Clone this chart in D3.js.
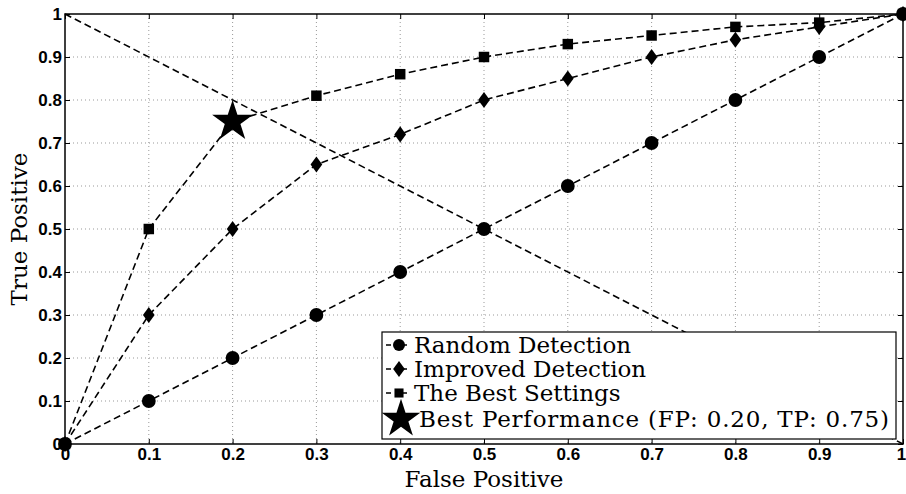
<!DOCTYPE html>
<html>
<head>
<meta charset="utf-8">
<script src="https://cdn.jsdelivr.net/npm/d3@7"></script>
<style>
  body { margin: 0; background: #fff; }
  .tick text { font-family: "Liberation Sans", Arial, sans-serif; font-weight: bold; font-size: 17px; fill: #000; }
  .lbl { font-family: "DejaVu Serif", serif; font-size: 23px; fill: #000; }
</style>
</head>
<body>
<div id="canvas"></div>
<script>
// data
var fpValues = [0, 0.1, 0.2, 0.3, 0.4, 0.5, 0.6, 0.7, 0.8, 0.9, 1];
var randomTP = [0, 0.1, 0.2, 0.3, 0.4, 0.5, 0.6, 0.7, 0.8, 0.9, 1];
var improvedTP = [0, 0.3, 0.5, 0.65, 0.72, 0.8, 0.85, 0.9, 0.94, 0.97, 1];
var bestTP = [0, 0.5, 0.75, 0.81, 0.86, 0.9, 0.93, 0.95, 0.97, 0.98, 1];
var diagonal = [[0, 1], [1, 0]];
var bestPoint = [0.2, 0.75];
var ticks = [0, 0.1, 0.2, 0.3, 0.4, 0.5, 0.6, 0.7, 0.8, 0.9, 1];
var legendLabels = ['Random Detection', 'Improved Detection', 'The Best Settings',
  'Best Performance (FP: 0.20, TP: 0.75)'];

var W = 906, H = 494;
var m = {t: 14, r: 3, b: 50, l: 65},
    w = W - m.l - m.r,
    h = H - m.t - m.b;

var svg = d3.select('#canvas').append('svg')
  .attr('width', W).attr('height', H);
var plot = svg.append('g')
  .attr('transform', 'translate(' + m.l + ',' + m.t + ')');

var x = d3.scaleLinear().domain([0, 1]).range([0, w]);
var y = d3.scaleLinear().domain([0, 1]).range([h, 0]);
var fmt = function(d){ return d === 0 ? '0' : d === 1 ? '1' : d3.format('.1f')(d); };

// grid
plot.append('g').selectAll('line').data(ticks.slice(1, -1)).enter().append('line')
  .attr('x1', function(d){ return x(d); }).attr('x2', function(d){ return x(d); })
  .attr('y1', 0).attr('y2', h)
  .attr('stroke', '#999').attr('stroke-dasharray', '1,3');
plot.append('g').selectAll('line').data(ticks.slice(1, -1)).enter().append('line')
  .attr('y1', function(d){ return y(d); }).attr('y2', function(d){ return y(d); })
  .attr('x1', 0).attr('x2', w)
  .attr('stroke', '#999').attr('stroke-dasharray', '1,3');

// axes
plot.append('g').attr('transform', 'translate(0,' + h + ')')
  .call(d3.axisBottom(x).tickValues(ticks).tickFormat(fmt).tickSizeInner(-5).tickSizeOuter(0).tickPadding(2))
  .call(function(g){
    g.select('.domain').remove();
    g.selectAll('.tick text').attr('dy', '0.8em');
    g.selectAll('.tick text').filter(function(d){ return d === 1; }).attr('dx', '-2');
  });
plot.append('g')
  .call(d3.axisLeft(y).tickValues(ticks).tickFormat(fmt).tickSizeInner(-5).tickSizeOuter(0).tickPadding(3))
  .call(function(g){ g.select('.domain').remove(); });
plot.append('g')
  .call(d3.axisTop(x).tickValues(ticks).tickFormat('').tickSizeInner(-5).tickSizeOuter(0))
  .call(function(g){ g.select('.domain').remove(); });
plot.append('g').attr('transform', 'translate(' + w + ',0)')
  .call(d3.axisRight(y).tickValues(ticks).tickFormat('').tickSizeInner(-5).tickSizeOuter(0))
  .call(function(g){ g.select('.domain').remove(); });

var line = d3.line()
  .x(function(d){ return x(d[0]); })
  .y(function(d){ return y(d[1]); });

function pts(vals){ return fpValues.map(function(f, i){ return [f, vals[i]]; }); }

var series = [
  {data: pts(randomTP), sym: d3.symbolCircle, size: 150},
  {data: pts(improvedTP), sym: 'diamond', size: 0},
  {data: pts(bestTP), sym: d3.symbolSquare, size: 110}
];

function diamondPath(s){
  var a = s * 0.45, b = s * 0.62;
  return 'M0,' + (-b) + 'L' + a + ',0L0,' + b + 'L' + (-a) + ',0Z';
}
function marker(sel, s){
  if (s.sym === 'diamond') sel.attr('d', diamondPath(13));
  else sel.attr('d', d3.symbol().type(s.sym).size(s.size)());
}

plot.append('path').datum(diagonal)
  .attr('d', line).attr('fill', 'none').attr('stroke', '#000')
  .attr('stroke-width', 1.6).attr('stroke-dasharray', '7,4');

series.forEach(function(s){
  plot.append('path').datum(s.data)
    .attr('d', line).attr('fill', 'none').attr('stroke', '#000')
    .attr('stroke-width', 1.6).attr('stroke-dasharray', '7,4');
  plot.append('g').selectAll('path').data(s.data).enter().append('path')
    .attr('transform', function(d){ return 'translate(' + x(d[0]) + ',' + y(d[1]) + ')'; })
    .call(marker, s).attr('fill', '#000');
});

// best point star
plot.append('path')
  .attr('transform', 'translate(' + x(bestPoint[0]) + ',' + y(bestPoint[1]) + ')')
  .attr('d', d3.symbol().type(d3.symbolStar).size(520)())
  .attr('fill', '#000');

// box
plot.append('rect').attr('width', w).attr('height', h)
  .attr('fill', 'none').attr('stroke', '#000').attr('stroke-width', 1.5);

// legend
var lg = svg.append('g').attr('transform', 'translate(382,332)');
lg.append('rect').attr('width', 514).attr('height', 107)
  .attr('fill', '#fff').attr('stroke', '#000').attr('stroke-width', 1.2);
var rowY = [13, 37, 61, 87];
legendLabels.forEach(function(t, i){
  var row = lg.append('g').attr('transform', 'translate(0,' + rowY[i] + ')');
  if (i < 3) {
    row.append('line').attr('x1', 4).attr('x2', 30).attr('stroke', '#000')
      .attr('stroke-width', 1.5).attr('stroke-dasharray', '5,11');
    row.append('path').attr('transform', 'translate(17,0)')
      .call(marker, series[i].sym === 'diamond' ? {sym: 'diamond'} :
        {sym: series[i].sym, size: series[i].size * 0.75})
      .attr('fill', '#000');
  } else {
    row.append('path').attr('transform', 'translate(19,0)')
      .attr('d', d3.symbol().type(d3.symbolStar).size(460)()).attr('fill', '#000');
  }
  row.append('text').attr('class', 'lbl').attr('x', i < 3 ? 32 : 37).attr('y', 8)
    .attr('textLength', i < 3 ? null : 470).text(t);
});

// axis titles
svg.append('text').attr('class', 'lbl')
  .attr('x', m.l + w / 2).attr('y', 487).attr('text-anchor', 'middle')
  .text('False Positive');
svg.append('text').attr('class', 'lbl')
  .attr('transform', 'translate(27,' + (m.t + h / 2) + ') rotate(-90)')
  .attr('text-anchor', 'middle').text('True Positive');
</script>
</body>
</html>
